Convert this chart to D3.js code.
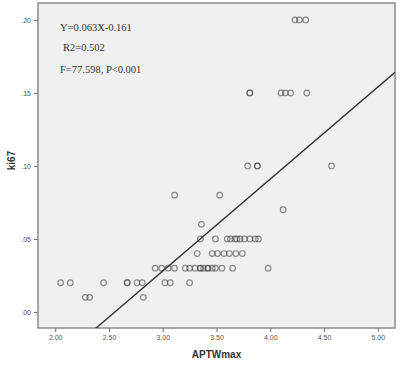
<!DOCTYPE html>
<html lang="en">
<head>
  <meta charset="UTF-8">
  <title>APTWmax vs ki67</title>
  <script src="https://d3js.org/d3.v7.min.js"></script>
  <style>
    body { margin: 0; background: #fff; }
    svg { display: block; }
  </style>
</head>
<body>
  <svg id="chart" width="400" height="369"></svg>
  <script>
    // APTWmax (x) and ki67 (y), one row per ki67 level
    const aptw = [
      4.23, 4.27, 4.33,
      3.81, 3.81, 4.10, 4.14, 4.19, 4.34,
      3.79, 3.88, 3.88, 4.57,
      3.11, 3.53,
      4.12,
      3.36,
      3.35, 3.49, 3.60, 3.63, 3.67, 3.69, 3.72, 3.76, 3.81, 3.86, 3.89,
      3.32, 3.46, 3.51, 3.57, 3.62, 3.68, 3.74,
      2.93, 2.99, 3.05, 3.11, 3.21, 3.25, 3.30, 3.35, 3.35, 3.38, 3.42, 3.42, 3.46, 3.49, 3.55, 3.65, 3.98,
      2.05, 2.14, 2.45, 2.67, 2.67, 2.76, 2.81, 3.02, 3.07, 3.25,
      2.28, 2.32, 2.82
    ];
    const ki67 = [
      .20, .20, .20,
      .15, .15, .15, .15, .15, .15,
      .10, .10, .10, .10,
      .08, .08,
      .07,
      .06,
      .05, .05, .05, .05, .05, .05, .05, .05, .05, .05, .05,
      .04, .04, .04, .04, .04, .04, .04,
      .03, .03, .03, .03, .03, .03, .03, .03, .03, .03, .03, .03, .03, .03, .03, .03, .03,
      .02, .02, .02, .02, .02, .02, .02, .02, .02, .02,
      .01, .01, .01
    ];
    const xTicks = [2.0, 2.5, 3.0, 3.5, 4.0, 4.5, 5.0];
    const yTicks = [0.00, 0.05, 0.10, 0.15, 0.20];
    const fitSlope = 0.063, fitIntercept = -0.161;
    const notes = ["Y=0.063X-0.161", "R2=0.502", "F=77.598, P<0.001"];

    const svg = d3.select("#chart");
    const box = {left: 38, top: 3, right: 395, bottom: 328};

    const x = d3.scaleLinear().domain([1.84, 5.16]).range([box.left, box.right]);
    const y = d3.scaleLinear().domain([-0.011, 0.2116]).range([box.bottom, box.top]);

    // plot area
    svg.append("rect")
      .attr("x", box.left).attr("y", box.top)
      .attr("width", box.right - box.left).attr("height", box.bottom - box.top)
      .attr("fill", "#f0f0f0");

    svg.append("clipPath").attr("id", "clip")
      .append("rect")
      .attr("x", box.left).attr("y", box.top)
      .attr("width", box.right - box.left).attr("height", box.bottom - box.top);

    // axes
    const fmtY = d => d3.format(".2f")(d).replace(/^0/, "");
    const xAxis = svg.append("g")
      .attr("transform", `translate(0,${box.bottom})`)
      .call(d3.axisBottom(x).tickValues(xTicks).tickFormat(d3.format(".2f")).tickSize(4).tickPadding(3));
    const yAxis = svg.append("g")
      .attr("transform", `translate(${box.left},0)`)
      .call(d3.axisLeft(y).tickValues(yTicks).tickFormat(fmtY).tickSize(4).tickPadding(3));

    [xAxis, yAxis].forEach(a => {
      a.select(".domain").remove();
      a.selectAll("line").attr("stroke", "#666");
      a.selectAll("text").attr("fill", "#555")
        .style("font-family", "'Liberation Sans', Arial, sans-serif").style("font-size", "7px");
    });

    // frame
    svg.append("rect")
      .attr("x", box.left).attr("y", box.top)
      .attr("width", box.right - box.left).attr("height", box.bottom - box.top)
      .attr("fill", "none").attr("stroke", "#8a8a8a").attr("stroke-width", 1.5);

    // points
    svg.append("g").selectAll("circle")
      .data(aptw.map((v, i) => ({a: v, k: ki67[i]})))
      .join("circle")
      .attr("cx", d => x(d.a))
      .attr("cy", d => y(d.k))
      .attr("r", 2.8)
      .attr("fill", "none")
      .attr("stroke", "#444")
      .attr("stroke-opacity", 0.6)
      .attr("stroke-width", 1.2);

    // fit line
    const xd = x.domain();
    svg.append("line")
      .attr("clip-path", "url(#clip)")
      .attr("x1", x(xd[0])).attr("y1", y(fitSlope * xd[0] + fitIntercept))
      .attr("x2", x(xd[1])).attr("y2", y(fitSlope * xd[1] + fitIntercept))
      .attr("stroke", "#333").attr("stroke-width", 1.4);

    // annotation
    const noteX = [60, 63, 60];
    const noteY = [31, 51, 73];
    svg.append("g").selectAll("text")
      .data(notes)
      .join("text")
      .attr("x", (d, i) => noteX[i])
      .attr("y", (d, i) => noteY[i])
      .attr("fill", "#333")
      .style("font-family", "'Liberation Serif', 'Times New Roman', serif")
      .style("font-size", "10.5px")
      .text(d => d);

    // axis titles
    svg.append("text")
      .attr("x", (box.left + box.right) / 2).attr("y", 358)
      .attr("text-anchor", "middle")
      .attr("fill", "#333")
      .style("font-family", "'Liberation Sans', Arial, sans-serif")
      .style("font-size", "10px").style("font-weight", "bold")
      .text("APTWmax");

    svg.append("text")
      .attr("transform", `translate(15,${(box.top + box.bottom) / 2 - 5}) rotate(-90)`)
      .attr("text-anchor", "middle")
      .attr("fill", "#333")
      .style("font-family", "'Liberation Sans', Arial, sans-serif")
      .style("font-size", "10px").style("font-weight", "bold")
      .text("ki67");
  </script>
</body>
</html>
